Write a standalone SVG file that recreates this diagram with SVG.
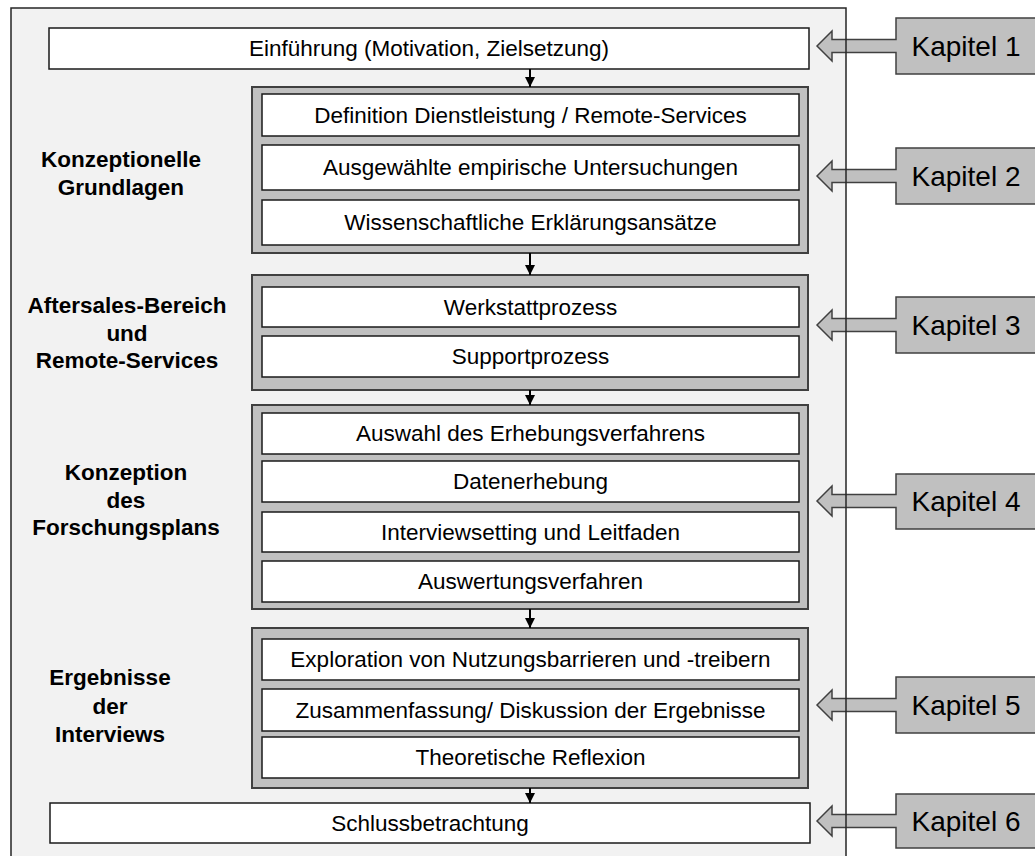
<svg xmlns="http://www.w3.org/2000/svg" width="1035" height="856" viewBox="0 0 1035 856">
<style>
.t{font-family:"Liberation Sans",Arial,sans-serif;font-size:22.5px;fill:#000;text-anchor:middle}
.b{font-family:"Liberation Sans",Arial,sans-serif;font-size:22.5px;font-weight:bold;fill:#000;text-anchor:middle}
.k{font-family:"Liberation Sans",Arial,sans-serif;font-size:28px;fill:#000;text-anchor:middle}
.wb{fill:#fff;stroke:#1a1a1a;stroke-width:1.5}
.gb{fill:#c0c0c0;stroke:#404040;stroke-width:2}
.ka{fill:#c0c0c0;stroke:#404040;stroke-width:1.5;stroke-linejoin:miter}
.cn{stroke:#000;stroke-width:2;fill:none}
</style>
<defs>
<marker id="ah" viewBox="0 0 10 10" refX="10" refY="5" markerWidth="10" markerHeight="10" markerUnits="userSpaceOnUse" orient="auto">
<path d="M0,0 L10,5 L0,10 Z" fill="#000"/>
</marker>
</defs>
<rect x="11" y="8" width="835" height="860" fill="#f2f2f2"/>
<g id="kapitel-arrows">
<g id="k1"><path class="ka" d="M817,46 L832,31 L832,39.5 L896,39.5 L896,18 L1040,18 L1040,74 L896,74 L896,52.5 L832,52.5 L832,61 Z"/><text class="k" x="966" y="56">Kapitel 1</text></g>
<g id="k2"><path class="ka" d="M817,176 L832,161 L832,169.5 L896,169.5 L896,148 L1040,148 L1040,204 L896,204 L896,182.5 L832,182.5 L832,191 Z"/><text class="k" x="966" y="186">Kapitel 2</text></g>
<g id="k3"><path class="ka" d="M817,325 L832,310 L832,318.5 L896,318.5 L896,297 L1040,297 L1040,353 L896,353 L896,331.5 L832,331.5 L832,340 Z"/><text class="k" x="966" y="335">Kapitel 3</text></g>
<g id="k4"><path class="ka" d="M817,501 L832,486 L832,494.5 L896,494.5 L896,474 L1040,474 L1040,529 L896,529 L896,507.5 L832,507.5 L832,516 Z"/><text class="k" x="966" y="511">Kapitel 4</text></g>
<g id="k5"><path class="ka" d="M817,705 L832,690 L832,698.5 L896,698.5 L896,677 L1040,677 L1040,733 L896,733 L896,711.5 L832,711.5 L832,720 Z"/><text class="k" x="966" y="715">Kapitel 5</text></g>
<g id="k6"><path class="ka" d="M817,821 L832,806 L832,814.5 L896,814.5 L896,794 L1040,794 L1040,848 L896,848 L896,827.5 L832,827.5 L832,836 Z"/><text class="k" x="966" y="831">Kapitel 6</text></g>
</g>
<path d="M11,860 V8 H846 V860" fill="none" stroke="#262626" stroke-width="1.5"/>
<g id="einfuehrung"><rect class="wb" x="49" y="28" width="760" height="41"/><text class="t" x="429" y="56">Einführung (Motivation, Zielsetzung)</text></g>
<g id="grundlagen">
<text class="b" x="121" y="167">Konzeptionelle</text><text class="b" x="121" y="195">Grundlagen</text>
<rect class="gb" x="252" y="87" width="556" height="166"/>
<rect class="wb" x="262" y="94" width="537" height="42"/><text class="t" x="530.5" y="122.5">Definition Dienstleistung / Remote-Services</text>
<rect class="wb" x="262" y="145" width="537" height="45"/><text class="t" x="530.5" y="175">Ausgewählte empirische Untersuchungen</text>
<rect class="wb" x="262" y="200" width="537" height="45"/><text class="t" x="530.5" y="230">Wissenschaftliche Erklärungsansätze</text>
</g>
<g id="aftersales">
<text class="b" x="127" y="313">Aftersales-Bereich</text><text class="b" x="127" y="341">und</text><text class="b" x="127" y="368">Remote-Services</text>
<rect class="gb" x="252" y="275" width="556" height="115"/>
<rect class="wb" x="262" y="287" width="537" height="40"/><text class="t" x="530.5" y="314.5">Werkstattprozess</text>
<rect class="wb" x="262" y="336" width="537" height="41"/><text class="t" x="530.5" y="364">Supportprozess</text>
</g>
<g id="forschungsplan">
<text class="b" x="126" y="480">Konzeption</text><text class="b" x="126" y="508">des</text><text class="b" x="126" y="535">Forschungsplans</text>
<rect class="gb" x="252" y="405" width="556" height="204"/>
<rect class="wb" x="262" y="413" width="537" height="41"/><text class="t" x="530.5" y="441">Auswahl des Erhebungsverfahrens</text>
<rect class="wb" x="262" y="461" width="537" height="41"/><text class="t" x="530.5" y="489">Datenerhebung</text>
<rect class="wb" x="262" y="512" width="537" height="40"/><text class="t" x="530.5" y="539.5">Interviewsetting und Leitfaden</text>
<rect class="wb" x="262" y="561" width="537" height="41"/><text class="t" x="530.5" y="589">Auswertungsverfahren</text>
</g>
<g id="ergebnisse">
<text class="b" x="110" y="685">Ergebnisse</text><text class="b" x="110" y="714">der</text><text class="b" x="110" y="742">Interviews</text>
<rect class="gb" x="252" y="628" width="556" height="160"/>
<rect class="wb" x="262" y="639" width="537" height="41"/><text class="t" x="530.5" y="667">Exploration von Nutzungsbarrieren und -treibern</text>
<rect class="wb" x="262" y="689" width="537" height="42"/><text class="t" x="530.5" y="717.5">Zusammenfassung/ Diskussion der Ergebnisse</text>
<rect class="wb" x="262" y="737" width="537" height="41"/><text class="t" x="530.5" y="765">Theoretische Reflexion</text>
</g>
<g id="schluss"><rect class="wb" x="50" y="803" width="760" height="40"/><text class="t" x="430" y="830.5">Schlussbetrachtung</text></g>
<g id="connectors">
<line class="cn" x1="530" y1="69" x2="530" y2="87" marker-end="url(#ah)"/>
<line class="cn" x1="530" y1="253" x2="530" y2="275" marker-end="url(#ah)"/>
<line class="cn" x1="530" y1="390" x2="530" y2="405" marker-end="url(#ah)"/>
<line class="cn" x1="530" y1="609" x2="530" y2="628" marker-end="url(#ah)"/>
<line class="cn" x1="530" y1="788" x2="530" y2="803" marker-end="url(#ah)"/>
</g>
</svg>
